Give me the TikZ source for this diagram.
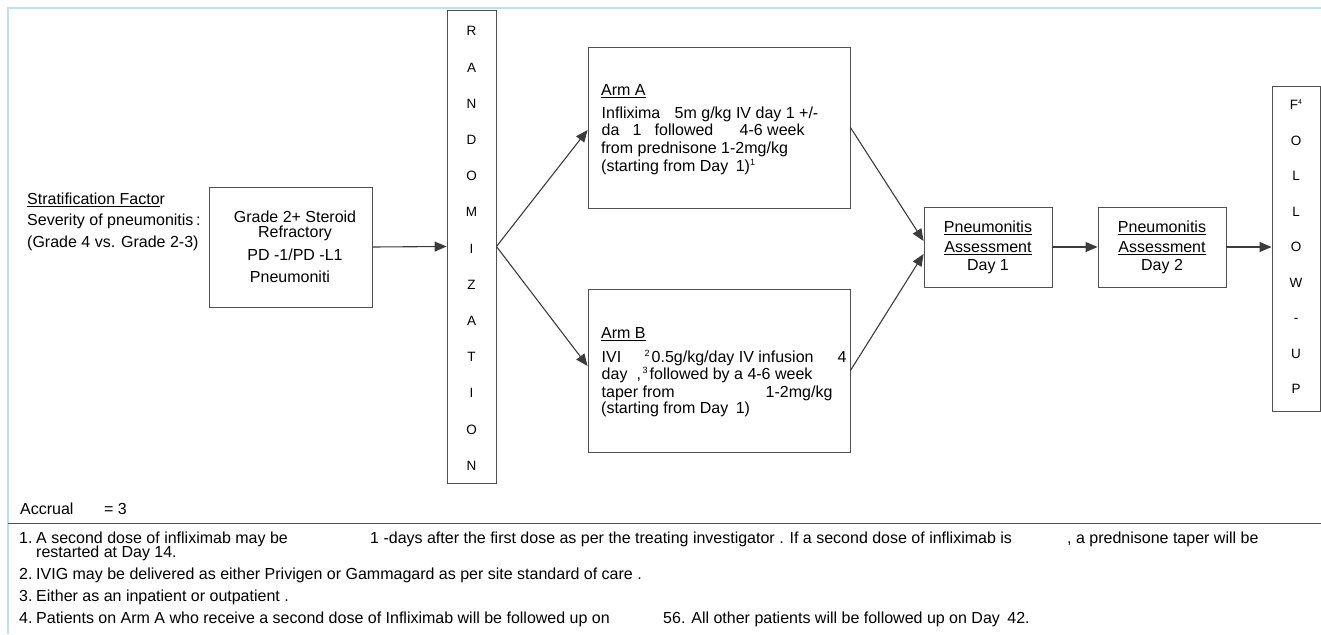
\documentclass[tikz,border=0pt]{standalone}
\usepackage{fontspec}
\setmainfont{Liberation Sans}
\usetikzlibrary{arrows.meta}
\definecolor{edge}{HTML}{3C3C3C}
\definecolor{boxline}{HTML}{505050}
\definecolor{frameblue}{HTML}{BDE3E8}
\newcommand\tpos[2]{\makebox[0pt][l]{\hspace*{#1pt}#2}}
\newcommand\fsz[1]{\fontsize{#1}{#1}\selectfont}
\newcommand\sups[1]{\raisebox{6pt}{\fsz{9}#1}}
\begin{document}
\begin{tikzpicture}[x=1pt,y=-1pt,
  box/.style={draw=boxline, line width=0.9pt, inner sep=0pt},
  conn/.style={draw=edge, line width=1.1pt, -{Triangle[length=12pt,width=10pt,fill=edge]}},
  txt/.style={inner sep=0pt, anchor=base west, font=\fsz{16}},
  ctxt/.style={inner sep=0pt, anchor=base, font=\fsz{16}},
  foot/.style={inner sep=0pt, anchor=base west, font=\fsz{16}},
  letter/.style={inner sep=0pt, anchor=base, font=\fsz{13.5}},
]
\useasboundingbox (0,0) rectangle (1321,634);
\draw[frameblue, line width=2pt] (8,634) -- (8,8) -- (1321,8);

% stratification
\node[txt] (s1) at (27,204.5) {\underline{Stratification Facto}r};
\node[txt] (s2) at (27,225.5) {Severity of pneumonitis\,:};
\node[txt] (s3) at (27,247.5) {(Grade 4 vs. Grade 2-3)};

% boxes
\node[box, minimum width=163pt, minimum height=120pt] (grade) at (290.5,247) {};
\node[box, minimum width=49pt, minimum height=473pt] (rand) at (471.5,246.5) {};
\node[box, minimum width=262pt, minimum height=161pt] (armA) at (719,127.5) {};
\node[box, minimum width=262pt, minimum height=163pt] (armB) at (719,370.5) {};
\node[box, minimum width=128pt, minimum height=80pt] (day1) at (988,247) {};
\node[box, minimum width=128pt, minimum height=80pt] (day2) at (1162,247) {};
\node[box, minimum width=48pt, minimum height=325pt] (follow) at (1296,249) {};

% grade text
\node[ctxt] (g1) at (295,222.5) {Grade 2+ Steroid};
\node[ctxt] (g2) at (295,237.5) {Refractory};
\node[ctxt] (g3) at (295,260.5) {PD -1/PD -L1};
\node[ctxt] (g4) at (290,282.5) {Pneumoniti};

% randomization letters
\foreach \l [count=\i from 0] in {R,A,N,D,O,M,I,Z,A,T,I,O,N}
  \node[letter] (r\i) at (471.5,{35.8+36.2*\i}) {\l};

% follow-up letters
\node[letter] (f0) at (1296,109.8) {F\raisebox{5pt}{\fsz{7}4}};
\foreach \l [count=\i from 1] in {O,L,L,O,W,-,U,P}
  \node[letter] (f\i) at (1296,{109.8+35.5*\i}) {\l};

% arm A
\node[txt] (a0) at (601,95.5) {\underline{Arm A}};
\node[txt] (a1) at (601,118.5) {\tpos{0}{Inflixima}\tpos{73}{5m g/kg IV day 1 +/-}};
\node[txt] (a2) at (601,135.5) {\tpos{0}{da}\tpos{31}{1}\tpos{53}{followed}\tpos{138}{4-6 week}};
\node[txt] (a3) at (601,153.5) {from prednisone 1-2mg/kg};
\node[txt] (a4) at (601,171.5) {(starting from Day\hspace{3pt} 1)\sups{1}};

% arm B
\node[txt] (b0) at (601,338.5) {\underline{Arm B}};
\node[txt] (b1) at (601,362.5) {\tpos{0}{IVI}\tpos{43}{\sups{2}}\tpos{50}{0.5g/kg/day IV infusion}\tpos{236}{4}};
\node[txt] (b2) at (601,379.5) {\tpos{0}{day}\tpos{35}{,}\tpos{41}{\sups{3}}\tpos{48}{followed by a 4-6 week}};
\node[txt] (b3) at (601,397.5) {\tpos{0}{taper from}\tpos{164}{1-2mg/kg}};
\node[txt] (b4) at (601,413.5) {(starting from Day\hspace{3pt} 1)};

% assessments
\node[ctxt] (d1a) at (988,232.5) {\underline{Pneumonitis}};
\node[ctxt] (d1b) at (988,252.5) {\underline{Assessment}};
\node[ctxt] (d1c) at (988,270.5) {Day 1};
\node[ctxt] (d2a) at (1162,232.5) {\underline{Pneumonitis}};
\node[ctxt] (d2b) at (1162,252.5) {\underline{Assessment}};
\node[ctxt] (d2c) at (1162,270.5) {Day 2};

% connectors
\draw[conn] (grade.east) -- (rand.west);
\draw[conn] (rand.east) -- ([yshift=-2.5pt]armA.west);
\draw[conn] (rand.east) -- ([yshift=4.5pt]armB.west);
\draw[conn] (armA.east) -- ([yshift=6pt]day1.west);
\draw[conn] (armB.east) -- ([yshift=-7pt]day1.west);
\draw[conn] (day1.east) -- (day2.west);
\draw[conn] (day2.east) -- (follow.west |- day2.east);

% footer
\node[foot] (acc1) at (20,514.5) {Accrual};
\node[foot] (acc2) at (104,514.5) {= 3};
\coordinate (ruleL) at (8,523);
\coordinate (ruleR) at (1321,523);
\draw[boxline, line width=1pt] (ruleL) -- (ruleR);

\node[foot] (n1) at (19,543.5) {1.};
\node[foot] (t1a) at (36,543.5) {A second dose of infliximab may be};
\node[foot] (t1b) at (370,543.5) {1 -days after the first dose as per the treating investigator . If a second dose of infliximab is};
\node[foot] (t1c) at (1067,543.5) {, a prednisone taper will be};
\node[foot] (t1d) at (36,557.5) {restarted at Day 14.};
\node[foot] (n2) at (19,579.5) {2.};
\node[foot] (t2) at (36,579.5) {IVIG may be delivered as either Privigen or Gammagard as per site standard of care .};
\node[foot] (n3) at (19,601.5) {3.};
\node[foot] (t3) at (36,601.5) {Either as an inpatient or outpatient .};
\node[foot] (n4) at (19,623.5) {4.};
\node[foot] (t4a) at (36,623.5) {Patients on Arm A who receive a second dose of Infliximab will be followed up on};
\node[foot] (t4b) at (663,623.5) {56. All other patients will be followed up on Day\hspace{3pt} 42.};
\end{tikzpicture}
\end{document}
